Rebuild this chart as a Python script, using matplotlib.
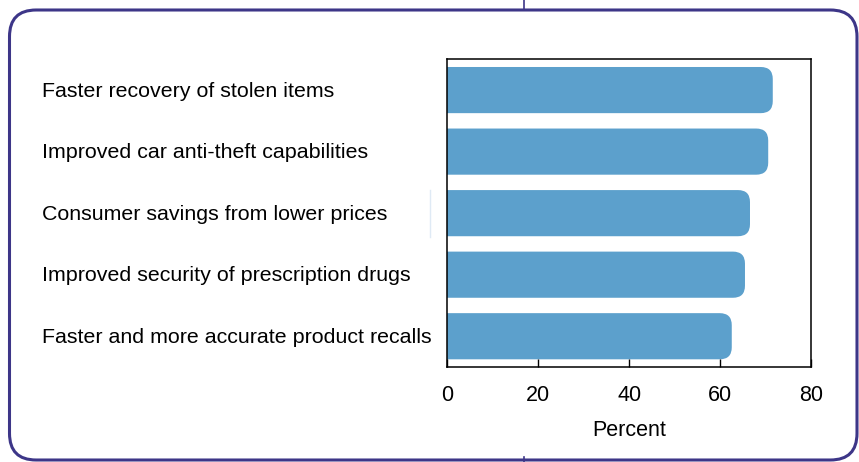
import matplotlib
matplotlib.use("Agg")
import matplotlib.pyplot as plt
from matplotlib.patches import FancyBboxPatch
from matplotlib.lines import Line2D
import matplotlib.transforms as mtransforms

# benefits, top to bottom
labels = [
    "Faster recovery of stolen items",
    "Improved car anti-theft capabilities",
    "Consumer savings from lower prices",
    "Improved security of prescription drugs",
    "Faster and more accurate product recalls",
]
percent = [71.5, 70.5, 66.5, 65.4, 62.5]
xticks = [0, 20, 40, 60, 80]

bar_color = "#5ca0cc"
frame_color = "#3d3688"

plt.rcParams['font.family'] = ['Liberation Sans', 'DejaVu Sans']

W, H = 859, 462
fig = plt.figure(figsize=(W / 100, H / 100), dpi=100)

# rounded outer frame
frame = FancyBboxPatch((9.5 / W, 1 - 460 / H), (857 - 9.5) / W, (460 - 10) / H,
                       boxstyle="round,pad=0,rounding_size=0.031",
                       mutation_aspect=W / H, transform=fig.transFigure,
                       fill=False, edgecolor=frame_color, linewidth=2.2)
fig.patches.append(frame)
fig.lines.append(Line2D([524 / W, 524 / W], [1, 1 - 10 / H], transform=fig.transFigure,
                        color=frame_color, linewidth=1.2))
fig.lines.append(Line2D([524 / W, 524 / W], [1 - 457 / H, 0], transform=fig.transFigure,
                        color=frame_color, linewidth=1.2))
fig.lines.append(Line2D([430 / W, 430 / W], [1 - 190 / H, 1 - 237 / H], transform=fig.transFigure,
                        color="#dfeaf5", linewidth=1.0))

ax = fig.add_axes([447 / W, 1 - 367 / H, (811.5 - 447) / W, (367 - 59.3) / H])

ypos = list(range(len(labels)))
bars = ax.barh(ypos, percent, height=0.75, color=bar_color)

# swap square bars for ones with rounded ends
px_x = (811.5 - 447) / 80
px_y = (367 - 59.3) / 5
r_px = 12
for rect in bars:
    x, y = rect.get_x(), rect.get_y()
    w, h = rect.get_width(), rect.get_height()
    rect.remove()
    p = FancyBboxPatch((x - 10, y), w + 10, h,
                       boxstyle="round,pad=0,rounding_size=%f" % (r_px / px_x),
                       mutation_aspect=px_x / px_y,
                       facecolor=bar_color, edgecolor="none")
    ax.add_patch(p)

ax.set_xlim(0, 80)
ax.set_ylim(4.5, -0.5)
ax.set_xticks(xticks)
ax.set_xticklabels([str(t) for t in xticks], fontsize=15.5)
ax.set_yticks([])
ax.tick_params(axis='x', direction='in', length=6, width=1, pad=13)
for s in ax.spines.values():
    s.set_linewidth(1.1)
ax.set_xlabel("Percent", fontsize=15.5, labelpad=10)

trans = mtransforms.blended_transform_factory(fig.transFigure, ax.transData)
for i, lab in enumerate(labels):
    ax.text(42 / W, i + 0.02, lab, transform=trans, fontsize=15.4, ha='left', va='center')

fig.savefig("out.png", dpi=100)
